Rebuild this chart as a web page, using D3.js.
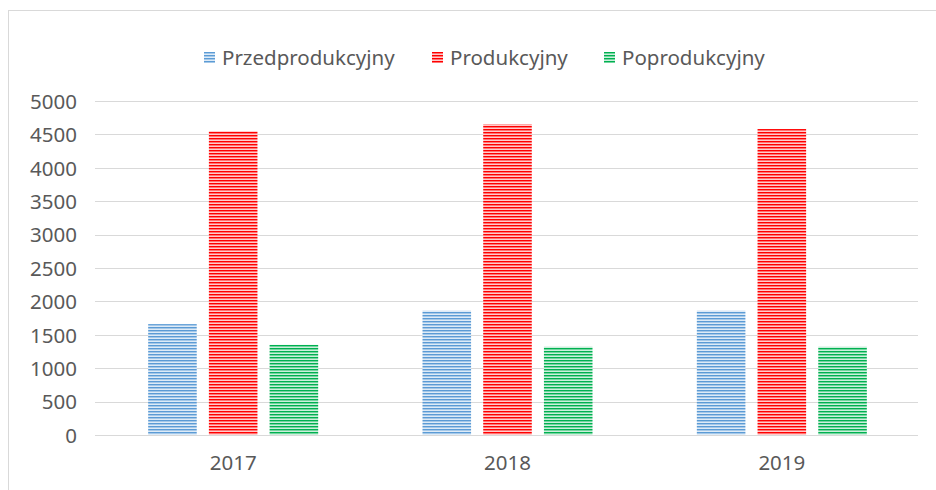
<!DOCTYPE html>
<html lang="pl">
<head>
  <meta charset="UTF-8">
  <title>Przedprodukcyjny / Produkcyjny / Poprodukcyjny</title>
  <style>
    body { margin: 0; background: #fff; }
    svg { display: block; }
    .tick text { fill: #595959; }
    .legend text { fill: #595959; }
  </style>
  <script src="https://d3js.org/d3.v7.min.js"></script>
</head>
<body>
  <svg id="chart" width="936" height="490"></svg>
  <script>
    // data
    const years = ["2017", "2018", "2019"];
    const seriesNames = ["Przedprodukcyjny", "Produkcyjny", "Poprodukcyjny"];
    const przedprodukcyjny = [1660, 1860, 1860];
    const produkcyjny = [4550, 4650, 4580];
    const poprodukcyjny = [1350, 1320, 1320];
    const yTicks = [0, 500, 1000, 1500, 2000, 2500, 3000, 3500, 4000, 4500, 5000];
    const colours = ["#5B9BD5", "#FF0000", "#00B050"];

    const values = [przedprodukcyjny, produkcyjny, poprodukcyjny];
    const font = "'Noto Sans', sans-serif";
    const fontSize = 20.5;

    const svg = d3.select("#chart");

    // outer chart frame (cropped on right/bottom)
    svg.append("rect")
      .attr("x", 8.5).attr("y", 10.5)
      .attr("width", 1000).attr("height", 1000)
      .attr("fill", "#fff")
      .attr("stroke", "#D9D9D9");

    // striped patterns, one per series
    const defs = svg.append("defs");
    colours.forEach((c, i) => {
      const p = defs.append("pattern")
        .attr("id", "stripe" + i)
        .attr("patternUnits", "userSpaceOnUse")
        .attr("width", 4).attr("height", 3);
      p.append("rect").attr("width", 4).attr("height", 3).attr("fill", "#fff");
      p.append("rect").attr("width", 4).attr("height", 1).attr("fill", c);
      p.append("rect").attr("y", 1).attr("width", 4).attr("height", 1)
        .attr("fill", c).attr("opacity", 0.55);
      p.append("rect").attr("y", 2).attr("width", 4).attr("height", 1)
        .attr("fill", c).attr("opacity", 0.2);
    });

    const x0 = d3.scaleBand()
      .domain(years)
      .range([96, 919]);
    const x1 = d3.scaleBand()
      .domain(seriesNames)
      .range([0, 170])
      .paddingInner(0.2);
    const y = d3.scaleLinear()
      .domain([0, 5000])
      .range([435, 101]);

    // gridlines
    svg.append("g")
      .selectAll("line")
      .data(yTicks)
      .join("line")
      .attr("x1", 95).attr("x2", 918)
      .attr("y1", d => Math.round(y(d)) + 0.5)
      .attr("y2", d => Math.round(y(d)) + 0.5)
      .attr("stroke", "#D9D9D9");

    // y axis labels
    const yAxis = svg.append("g")
      .attr("transform", "translate(77,0)")
      .call(d3.axisLeft(y).tickValues(yTicks).tickFormat(d3.format("d")).tickSize(0).tickPadding(0));
    yAxis.select(".domain").remove();
    yAxis.selectAll("text")
      .attr("font-family", font).attr("font-size", fontSize).attr("dy", "0.36em");

    // x axis labels
    const xAxis = svg.append("g")
      .attr("transform", "translate(0,435)")
      .call(d3.axisBottom(x0).tickSize(0).tickPadding(20));
    xAxis.select(".domain").remove();
    xAxis.selectAll("text")
      .attr("font-family", font).attr("font-size", fontSize);

    // bars
    const groups = svg.append("g")
      .selectAll("g")
      .data(years)
      .join("g")
      .attr("transform", d => "translate(" + (x0(d) + x0.bandwidth() / 2 - 85) + ",0)");

    groups.selectAll("rect")
      .data((d, i) => seriesNames.map((s, k) => ({s: s, k: k, v: values[k][i]})))
      .join("rect")
      .attr("x", d => x1(d.s))
      .attr("y", d => y(d.v))
      .attr("width", x1.bandwidth())
      .attr("height", d => y(0) - y(d.v))
      .attr("fill", d => "url(#stripe" + d.k + ")");

    // legend
    const legendX = [204, 432, 604];
    const legend = svg.append("g").attr("class", "legend");
    seriesNames.forEach((s, i) => {
      const g = legend.append("g").attr("transform", "translate(" + legendX[i] + ",52)");
      g.append("rect").attr("width", 11).attr("height", 11)
        .attr("fill", "url(#stripe" + i + ")");
      g.append("text")
        .attr("x", 18).attr("y", 5.5).attr("dy", "0.36em")
        .attr("font-family", font).attr("font-size", fontSize)
        .text(s);
    });
  </script>
</body>
</html>
